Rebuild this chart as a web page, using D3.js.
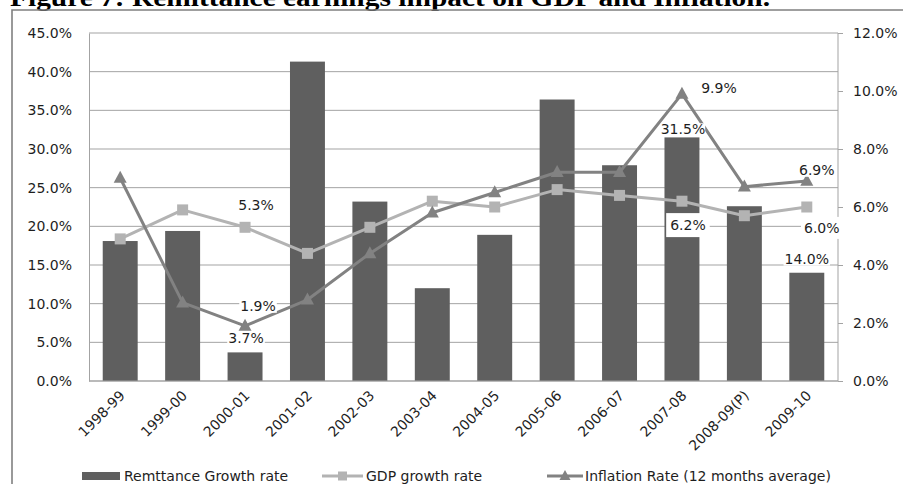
<!DOCTYPE html>
<html>
<head>
<meta charset="utf-8">
<script src="https://cdn.jsdelivr.net/npm/d3@7/dist/d3.min.js"></script>
<style>
  html, body { margin: 0; padding: 0; background: #fff; }
  svg { display: block; }
  text { font-family: "DejaVu Sans", Verdana, sans-serif; }
</style>
</head>
<body>
<svg id="chart" width="903" height="484"></svg>
<script>
// Fiscal years on the category axis
const years = ["1998-99", "1999-00", "2000-01", "2001-02", "2002-03", "2003-04",
               "2004-05", "2005-06", "2006-07", "2007-08", "2008-09(P)", "2009-10"];

// Remittance growth rate (%), left axis
const remittanceGrowth = [18.1, 19.4, 3.7, 41.3, 23.2, 12.0, 18.9, 36.4, 27.9, 31.5, 22.6, 14.0];

// GDP growth rate (%), right axis
const gdpGrowth = [4.9, 5.9, 5.3, 4.4, 5.3, 6.2, 6.0, 6.6, 6.4, 6.2, 5.7, 6.0];

// Inflation rate, 12 months average (%), right axis
const inflation = [7.0, 2.7, 1.9, 2.8, 4.4, 5.8, 6.5, 7.2, 7.2, 9.9, 6.7, 6.9];

// Axis tick values
const leftTicks = [0, 5, 10, 15, 20, 25, 30, 35, 40, 45];
const rightTicks = [0, 2, 4, 6, 8, 10, 12];

const seriesNames = ["Remttance Growth rate", "GDP growth rate", "Inflation Rate (12 months average)"];
const titleText = "Figure 7: Remittance earnings impact on GDP and Inflation.";

const svg = d3.select("#chart");

const plot = { left: 89, right: 838, top: 33, bottom: 381 };
const colors = { bar: "#5f5f5f", gdp: "#b3b3b3", infl: "#828282", grid: "#a3a3a3", text: "#1e1e1e" };

// Outer frame and heading
svg.append("text")
  .attr("x", 10).attr("y", 6)
  .attr("textLength", 760).attr("lengthAdjust", "spacingAndGlyphs")
  .style("font-family", "'Liberation Serif', 'Times New Roman', serif")
  .style("font-weight", "bold").style("font-size", "25px")
  .attr("fill", "#000")
  .text(titleText);

svg.append("path")
  .attr("d", `M12,484 V10 H903`)
  .attr("fill", "none").attr("stroke", "#808080").attr("stroke-width", 1.6);

// Scales
const x = d3.scaleBand().domain(years).range([plot.left, plot.right])
  .paddingInner(0.44).paddingOuter(0.22);
const cx = d => x(d) + x.bandwidth() / 2;
const yL = d3.scaleLinear().domain([0, 45]).range([plot.bottom, plot.top]);
const yR = d3.scaleLinear().domain([0, 12]).range([plot.bottom, plot.top]);

// Horizontal gridlines
svg.append("g").selectAll("line").data(leftTicks).join("line")
  .attr("x1", plot.left).attr("x2", plot.right)
  .attr("y1", d => yL(d)).attr("y2", d => yL(d))
  .attr("stroke", colors.grid).attr("stroke-width", 1);

// Left axis
const gL = svg.append("g").attr("transform", `translate(${plot.left},0)`)
  .call(d3.axisLeft(yL).tickValues(leftTicks).tickSize(0).tickPadding(17)
    .tickFormat(d => d.toFixed(1) + "%"));
gL.select(".domain").attr("stroke", colors.grid);
gL.selectAll("text").style("font-size", "14px").attr("fill", colors.text);

// Right axis
const gR = svg.append("g").attr("transform", `translate(${plot.right},0)`)
  .call(d3.axisRight(yR).tickValues(rightTicks).tickSize(5).tickPadding(10)
    .tickFormat(d => d.toFixed(1) + "%"));
gR.select(".domain").attr("stroke", colors.grid).attr("d", `M0,${plot.top}V${plot.bottom}`);
gR.selectAll(".tick line").attr("stroke", colors.grid);
gR.selectAll("text").style("font-size", "14px").attr("fill", colors.text);

// Bars
svg.append("g").selectAll("rect").data(remittanceGrowth).join("rect")
  .attr("x", (d, i) => x(years[i]))
  .attr("width", x.bandwidth())
  .attr("y", d => yL(d))
  .attr("height", d => yL(0) - yL(d))
  .attr("fill", colors.bar);

// Bottom axis line
svg.append("line")
  .attr("x1", plot.left).attr("x2", plot.right)
  .attr("y1", plot.bottom).attr("y2", plot.bottom)
  .attr("stroke", colors.grid);

// Category labels
svg.append("g").selectAll("text").data(years).join("text")
  .attr("transform", d => `translate(${cx(d) + 2},${plot.bottom + 12}) rotate(-45)`)
  .attr("text-anchor", "end").attr("dy", "0.35em")
  .style("font-size", "14px").attr("fill", colors.text)
  .text(d => d);

// Lines
const lineGen = yScale => d3.line().x((d, i) => cx(years[i])).y(d => yScale(d));
svg.append("path").datum(gdpGrowth)
  .attr("d", lineGen(yR)).attr("fill", "none")
  .attr("stroke", colors.gdp).attr("stroke-width", 3).attr("stroke-linejoin", "round");
svg.append("path").datum(inflation)
  .attr("d", lineGen(yR)).attr("fill", "none")
  .attr("stroke", colors.infl).attr("stroke-width", 3).attr("stroke-linejoin", "round");

// Markers
const sq = 11;
svg.append("g").selectAll("rect").data(gdpGrowth).join("rect")
  .attr("x", (d, i) => cx(years[i]) - sq / 2).attr("y", d => yR(d) - sq / 2)
  .attr("width", sq).attr("height", sq).attr("fill", colors.gdp);
const tri = (w, h) => `M0,${-h * 0.6}L${w / 2},${h * 0.4}L${-w / 2},${h * 0.4}Z`;
svg.append("g").selectAll("path").data(inflation).join("path")
  .attr("transform", (d, i) => `translate(${cx(years[i])},${yR(d)})`)
  .attr("d", tri(13, 12)).attr("fill", colors.infl);

// Data labels: series, index, offset from the mark, optional padded box
const series = {
  rem: { values: remittanceGrowth, y: i => yL(remittanceGrowth[i]) },
  gdp: { values: gdpGrowth, y: i => yR(gdpGrowth[i]) },
  infl: { values: inflation, y: i => yR(inflation[i]) }
};
const labelSpecs = [
  { s: "gdp", i: 2, dx: 11, dy: -22, px: 1, py: 1 },
  { s: "infl", i: 2, dx: 13, dy: -20, px: 1, py: 1 },
  { s: "rem", i: 2, dx: 1, dy: -14, px: 1, py: 1 },
  { s: "infl", i: 9, dx: 37, dy: -6, px: 1, py: 1 },
  { s: "rem", i: 9, dx: 1, dy: -8, px: 0, py: 0 },
  { s: "gdp", i: 9, dx: 6, dy: 24, px: 4, py: 6 },
  { s: "infl", i: 11, dx: 10, dy: -11, px: 1, py: 1 },
  { s: "gdp", i: 11, dx: 15, dy: 21, px: 3, py: 5 },
  { s: "rem", i: 11, dx: 0, dy: -14, px: 1, py: 1 }
];
const labelG = svg.append("g");
labelSpecs.forEach(spec => {
  const ser = series[spec.s];
  const lx = cx(years[spec.i]) + spec.dx;
  const ly = ser.y(spec.i) + spec.dy;
  const g = labelG.append("g");
  const box = g.append("rect").attr("fill", "#fff");
  const t = g.append("text")
    .attr("x", lx).attr("y", ly).attr("dy", "0.35em")
    .attr("text-anchor", "middle")
    .style("font-size", "14px").attr("fill", colors.text)
    .text(ser.values[spec.i].toFixed(1) + "%");
  const bb = t.node().getBBox();
  box.attr("x", bb.x - spec.px).attr("y", bb.y - spec.py + 2)
    .attr("width", bb.width + 2 * spec.px).attr("height", bb.height + 2 * spec.py - 4);
});

// Legend
const legY = 476;
const leg = svg.append("g").style("font-size", "14px");
leg.append("rect").attr("x", 82).attr("y", legY - 4).attr("width", 38).attr("height", 8).attr("fill", colors.bar);
leg.append("text").attr("x", 124).attr("y", legY).attr("dy", "0.35em").attr("fill", colors.text).text(seriesNames[0]);
leg.append("line").attr("x1", 322).attr("x2", 363).attr("y1", legY).attr("y2", legY)
  .attr("stroke", colors.gdp).attr("stroke-width", 3);
leg.append("rect").attr("x", 342.5 - 4.5).attr("y", legY - 4.5).attr("width", 9).attr("height", 9).attr("fill", colors.gdp);
leg.append("text").attr("x", 366).attr("y", legY).attr("dy", "0.35em").attr("fill", colors.text).text(seriesNames[1]);
leg.append("line").attr("x1", 547).attr("x2", 583).attr("y1", legY).attr("y2", legY)
  .attr("stroke", colors.infl).attr("stroke-width", 3);
leg.append("path").attr("transform", `translate(565,${legY})`).attr("d", tri(11, 10)).attr("fill", colors.infl);
leg.append("text").attr("x", 585).attr("y", legY).attr("dy", "0.35em").attr("fill", colors.text).text(seriesNames[2]);
</script>
</body>
</html>
